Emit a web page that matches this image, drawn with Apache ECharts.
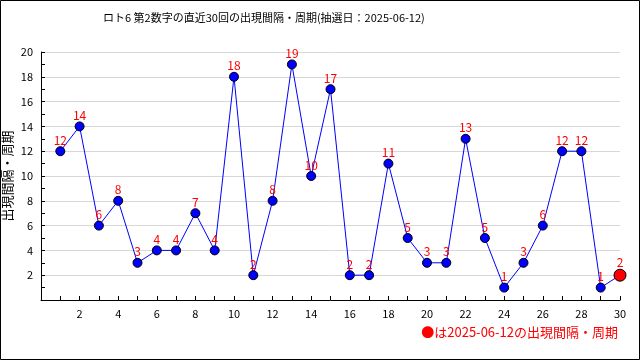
<!DOCTYPE html>
<html><head><meta charset="utf-8">
<script src="https://cdn.jsdelivr.net/npm/echarts@6/dist/echarts.min.js"></script>
<style>html,body{margin:0;padding:0;background:#fff}#c{width:640px;height:360px}</style>
</head><body><div id="c"></div>
<script>
const draws = [1,2,3,4,5,6,7,8,9,10,11,12,13,14,15,16,17,18,19,20,21,22,23,24,25,26,27,28,29,30];
const intervals = [12,14,6,8,3,4,4,7,4,18,2,8,19,10,17,2,2,11,5,3,3,13,5,1,3,6,12,12,1,2];
const titleText = 'ロト6 第2数字の直近30回の出現間隔・周期(抽選日：2025-06-12)';
const yName = '出現間隔・周期';
const legendText = '●は2025-06-12の出現間隔・周期';
const FONT = '"Noto Sans CJK JP", "DejaVu Sans", sans-serif';

const chart = echarts.init(document.getElementById('c'), null, {renderer:'canvas'});
const pts = draws.map((d,i)=>{
  const last = i === draws.length-1;
  return last ? {value:[d, intervals[i]], symbolSize:12, itemStyle:{color:'#ff0000', borderColor:'#000', borderWidth:1}} : [d, intervals[i]];
});
chart.setOption({
  animation:false,
  backgroundColor:'#fff',
  title:{text:titleText, left:98, top:7, textStyle:{fontFamily:FONT, fontSize:11, fontWeight:'normal', color:'#000'}},
  grid:{left:41, right:20, top:52, bottom:60, containLabel:false, outerBoundsMode:'none'},
  xAxis:{type:'value', min:0, max:30, interval:2,
    axisLine:{lineStyle:{color:'#000'}},
    axisTick:{inside:true, length:4, lineStyle:{color:'#000'}},
    minorTick:{show:true, splitNumber:2, length:4, lineStyle:{color:'#000'}},
    splitLine:{show:false},
    axisLabel:{fontFamily:FONT, fontSize:11, color:'#000', margin:8, formatter:v=> v===0?'':String(v)}},
  yAxis:{type:'value', min:0, max:20, interval:2,
    name:yName, nameLocation:'middle', nameGap:27, nameRotate:90, nameMoveOverlap:false,
    nameTextStyle:{fontFamily:FONT, fontSize:13, color:'#000'},
    axisLine:{show:true, lineStyle:{color:'#000'}},
    axisTick:{show:true, inside:true, length:4, lineStyle:{color:'#000'}},
    minorTick:{show:true, splitNumber:2, length:4, lineStyle:{color:'#000'}},
    splitLine:{show:true, lineStyle:{color:'#d8d8d8'}},
    axisLabel:{fontFamily:FONT, fontSize:11, color:'#000', margin:8, formatter:v=> v===0?'':String(v)}},
  series:[{type:'line', data:pts, symbol:'circle', symbolSize:9,
    lineStyle:{color:'#0000ff', width:1},
    itemStyle:{color:'#0000ff', borderColor:'#000', borderWidth:1},
    label:{show:true, position:'top', distance:0, color:'#ff0000', fontFamily:FONT, fontSize:12,
      formatter:p=>String(p.value[1])}}],
  graphic:[
    {type:'rect', shape:{x:0.5,y:0.5,width:639,height:359}, style:{fill:null, stroke:'#000', lineWidth:1}, silent:true},
    {type:'text', right:22, top:326, style:{text:legendText, fill:'#ff0000', font:'13px '+FONT}}
  ]
});
</script></body></html>
